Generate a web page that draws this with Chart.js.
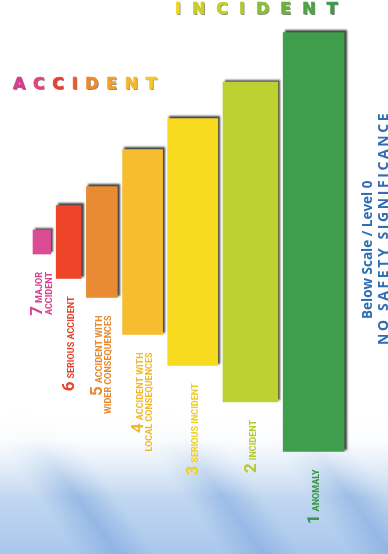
<!DOCTYPE html>
<html lang="en">
<head>
<meta charset="UTF-8">
<title>INES scale</title>
<script src="https://cdn.jsdelivr.net/npm/chart.js@4.4.0/dist/chart.umd.min.js"></script>
<style>
  html, body { margin: 0; padding: 0; background: #fff; }
  .wrap { position: relative; width: 388px; height: 554px; overflow: hidden; background: #fff; }
  .waves {
    position: absolute; left: 0; top: 412px; width: 388px; height: 142px;
    background:
      linear-gradient(180deg, #fff 0px, rgba(255,255,255,0.92) 28px, rgba(255,255,255,0.35) 62px, rgba(255,255,255,0) 85px),
      linear-gradient(55deg, rgba(150,185,228,0) 0%, rgba(150,185,228,0) 16%, rgba(125,168,222,0.6) 24%, rgba(150,185,228,0) 32%,
        rgba(150,185,228,0) 46%, rgba(125,168,222,0.55) 54%, rgba(150,185,228,0) 62%,
        rgba(150,185,228,0) 72%, rgba(125,168,222,0.55) 80%, rgba(150,185,228,0) 88%),
      linear-gradient(180deg, #dbe8f6 0%, #c4d9f1 55%, #a9c7ec 100%);
  }
  .box { position: absolute; left: 0; top: 0; width: 388px; height: 554px; }
  .title { position: absolute; font-family: "DejaVu Sans", Lato, sans-serif; font-weight: 700;
    font-size: 16px; line-height: 1; white-space: nowrap; -webkit-text-stroke: 0.7px currentColor;
    text-shadow: 1px 1px 0 rgba(30,30,30,0.55); }
  .side { position: absolute; transform-origin: left top; transform: rotate(-90deg);
    color: #2f6db5; font-family: "Open Sans", sans-serif; font-weight: 700; white-space: nowrap; line-height: 1; }
</style>
</head>
<body>
<div class="wrap">
  <div class="waves"></div>
  <div class="box"><canvas id="ines"></canvas></div>

  <div class="title" id="accTitle" style="left:13px; top:76px; letter-spacing:7.6px;"></div>
  <div class="title" id="incTitle" style="left:175px; top:1px; letter-spacing:11px;"></div>

  <div class="side" style="left:361px; top:319px; font-size:13.5px;">Below Scale / Level 0</div>
  <div class="side" style="left:376px; top:345px; font-size:14px; letter-spacing:2.6px;">NO SAFETY SIGNIFICANCE</div>
</div>

<script>
  // INES levels, left to right
  const levels = ['7', '6', '5', '4', '3', '2', '1'];
  const levelLines = [
    ['MAJOR', 'ACCIDENT'],
    ['SERIOUS ACCIDENT'],
    ['ACCIDENT WITH', 'WIDER CONSEQUENCES'],
    ['ACCIDENT WITH', 'LOCAL CONSEQUENCES'],
    ['SERIOUS INCIDENT'],
    ['INCIDENT'],
    ['ANOMALY']
  ];
  // bar length and bar width per level (same units)
  const barSpans = [24, 73, 111, 185, 247, 320, 419];
  const barWidths = [18, 25, 31, 40, 50, 55, 61];

  const barColors = ['#db4c95', '#ee4427', '#e98b33', '#f6bd2e', '#f8da1f', '#bdd232', '#3f9e4b'];
  const labelColors = ['#d6408c', '#e6432c', '#e8892f', '#f2b92a', '#f0cf20', '#b5c930', '#3a9646'];

  const accLetters = ['A', 'C', 'C', 'I', 'D', 'E', 'N', 'T'];
  const accColors = ['#d43f8d', '#e0457a', '#e8412f', '#ea5a2a', '#ee8a2c', '#f0a030', '#f4b82e', '#f5c92a'];
  const incLetters = ['I', 'N', 'C', 'I', 'D', 'E', 'N', 'T'];
  const incColors = ['#f2d31e', '#c9cf2a', '#bfd02e', '#b0cb32', '#8cbf3a', '#6cb040', '#4ea445', '#3f9c48'];

  function fillTitle(id, letters, colors) {
    const el = document.getElementById(id);
    letters.forEach((ch, i) => {
      const s = document.createElement('span');
      s.textContent = ch;
      s.style.color = colors[i];
      el.appendChild(s);
    });
  }
  fillTitle('accTitle', accLetters, accColors);
  fillTitle('incTitle', incLetters, incColors);

  // bars sit side by side with a small gap
  const START = 33, GAP = 5.2;
  let cursor = START;
  const centers = barWidths.map(w => { const c = cursor + w / 2; cursor += w + GAP; return c; });

  const barShadow = {
    id: 'barShadow',
    beforeDatasetsDraw(chart) {
      const c = chart.ctx;
      c.save();
      c.shadowColor = 'rgba(0,0,0,0.75)';
      c.shadowBlur = 2;
      c.shadowOffsetX = 2;
      c.shadowOffsetY = -2;
    },
    afterDatasetsDraw(chart) { chart.ctx.restore(); }
  };

  const LABEL_GAP = 18;
  const levelLabels = {
    id: 'levelLabels',
    afterDraw(chart) {
      const ctx = chart.ctx;
      chart.data.datasets.forEach((ds, i) => {
        const bar = chart.getDatasetMeta(i).data[0];
        const bottom = Math.max(bar.y, bar.base);
        const lines = levelLines[i];
        const b1 = lines.length > 1 ? 0 : 5.5;
        ctx.save();
        ctx.translate(bar.x, bottom + LABEL_GAP);
        ctx.rotate(-Math.PI / 2);
        ctx.fillStyle = labelColors[i];
        ctx.textAlign = 'right';
        ctx.textBaseline = 'alphabetic';
        ctx.font = 'bold 9px Roboto, "Open Sans", sans-serif';
        ctx.fillText(lines[0], 0, b1);
        const w1 = ctx.measureText(lines[0]).width;
        if (lines[1]) ctx.fillText(lines[1], 0, b1 + 9.5);
        ctx.font = 'bold 17px Roboto, "Open Sans", sans-serif';
        ctx.fillText(levels[i], -w1 - 3, b1);
        ctx.restore();
      });
    }
  };

  const datasets = levels.map((lv, i) => ({
    label: 'Level ' + lv,
    data: [{ x: centers[i], y: [-barSpans[i] / 2, barSpans[i] / 2] }],
    backgroundColor: barColors[i],
    barThickness: barWidths[i],
    grouped: false,
    borderWidth: 0
  }));

  new Chart(document.getElementById('ines'), {
    type: 'bar',
    data: { datasets },
    options: {
      responsive: true,
      maintainAspectRatio: false,
      animation: false,
      layout: { padding: 0 },
      plugins: { legend: { display: false }, tooltip: { enabled: false } },
      scales: {
        x: { type: 'linear', min: 0, max: 388, offset: false, display: false },
        y: { type: 'linear', min: -312, max: 242, display: false }
      }
    },
    plugins: [barShadow, levelLabels]
  });
</script>
</body>
</html>
